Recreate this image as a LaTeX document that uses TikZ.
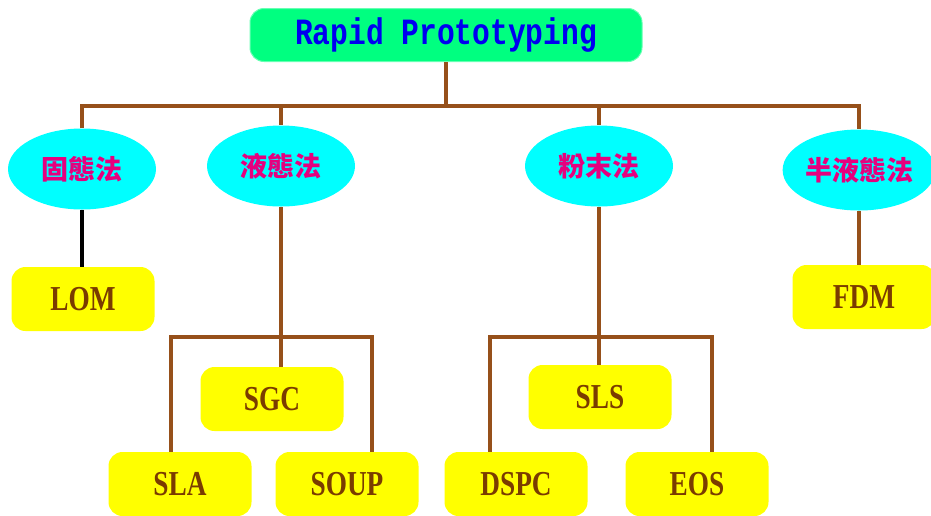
\documentclass[tikz,border=0pt]{standalone}
\usepackage{fontspec}
\usetikzlibrary{shapes.geometric, positioning}
\setmainfont{Liberation Serif}
\newfontfamily\titlefont{Liberation Mono}[FakeStretch=0.8]
\newfontfamily\boxfont{Liberation Serif}[FakeStretch=0.78]
\newfontfamily\cjkfont{Noto Sans CJK TC}
\definecolor{rootgreen}{HTML}{00FF80}
\definecolor{titleblue}{HTML}{0000F0}
\definecolor{methodcyan}{HTML}{00FFFF}
\definecolor{methodpink}{HTML}{E6007E}
\definecolor{procyellow}{HTML}{FFFF00}
\definecolor{procbrown}{HTML}{7A3C00}
\definecolor{linkbrown}{HTML}{96501A}

\begin{document}
\begin{tikzpicture}[x=1pt, y=-1pt,
  root/.style={rectangle, rounded corners=14pt, fill=rootgreen, draw=rootgreen!60, line width=1pt,
    minimum width=392pt, minimum height=53pt, text=titleblue,
    font=\titlefont\bfseries\fontsize{37}{37}\selectfont},
  method/.style={ellipse, fill=methodcyan, minimum width=148pt, minimum height=81pt, inner sep=0pt,
    text=methodpink, font=\cjkfont\bfseries\fontsize{27}{27}\selectfont},
  proc/.style={rectangle, rounded corners=14pt, fill=procyellow, minimum width=143pt, minimum height=64pt,
    text=procbrown, font=\boxfont\bfseries\fontsize{35}{35}\selectfont},
  link/.style={linkbrown, line width=4pt}]
  \useasboundingbox (0,0) rectangle (931,515);

  \node[root] (rp) at (446,35) {Rapid Prototyping};

  \node[method] (solid) at (82,169) {固態法};
  \node[method] (liquid) at (281,166) {液態法};
  \node[method] (powder) at (599,166) {粉末法};
  \node[method] (semi) at (859,170) {半液態法};

  \node[proc] (lom) at (83,299) {LOM};
  \node[proc] (fdm) at (864,297) {FDM};
  \node[proc] (sgc) at (272,399) {SGC};
  \node[proc] (sla) at (180,484) {SLA};
  \node[proc] (soup) at (347,484) {SOUP};
  \node[proc] (sls) at (600,397) {SLS};
  \node[proc] (dspc) at (516,484) {DSPC};
  \node[proc] (eos) at (697,484) {EOS};

  \coordinate (bus) at (446,106);
  \coordinate (lbus) at (281,337);
  \coordinate (pbus) at (599,337);

  % top level
  \draw[link] (rp) -- (bus);
  \draw[link] (solid.north) |- (bus) -| (semi.north);
  \draw[link] (bus -| liquid.north) -- (liquid.north);
  \draw[link] (bus -| powder.north) -- (powder.north);

  % single children
  \draw[black, line width=3.5pt] (solid.south) -- (solid.south |- lom.north);
  \draw[link] (semi.south) -- (semi.south |- fdm.north);

  % liquid branch
  \draw[link] (liquid) -- (lbus);
  \draw[link] (lbus) -- (lbus |- sgc.north);
  \draw[link] ([xshift=-9pt]sla.north) |- (lbus) -| ([xshift=25pt]soup.north);

  % powder branch
  \draw[link] (powder) -- (pbus);
  \draw[link] (pbus) -- (pbus |- sls.north);
  \draw[link] ([xshift=-26pt]dspc.north) |- (pbus) -| ([xshift=15pt]eos.north);
\end{tikzpicture}
\end{document}
